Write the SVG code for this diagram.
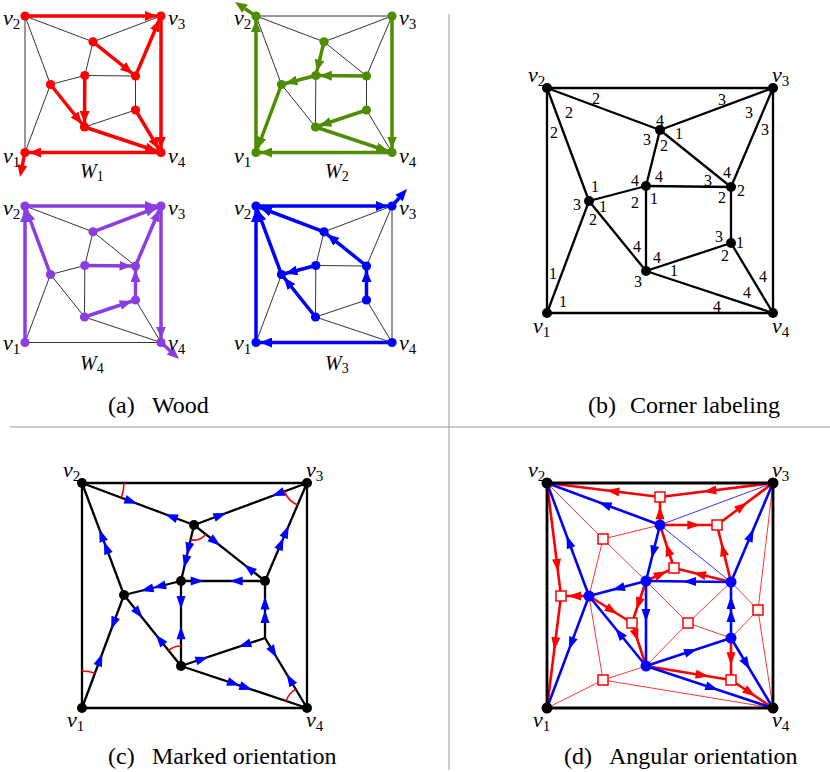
<svg xmlns="http://www.w3.org/2000/svg" width="830" height="772" viewBox="0 0 830 772" font-family="Liberation Serif, Times New Roman, DejaVu Serif, serif">
<style>
.div{stroke:#999;stroke-width:1}
.th{stroke:#000;stroke-width:0.8;fill:none}
.e{stroke:#000;stroke-width:2.3;fill:none;stroke-linejoin:round}
.r{stroke:#f00;stroke-width:3.5;marker-end:url(#mR)}
.g{stroke:#4e8c00;stroke-width:3.5;marker-end:url(#mG)}
.p{stroke:#8a3ee0;stroke-width:3.5;marker-end:url(#mP)}
.b{stroke:#00f;stroke-width:3.5;marker-end:url(#mB)}
.r0{stroke:#f00;stroke-width:3.5}
.g0{stroke:#4e8c00;stroke-width:3.5}
.p0{stroke:#8a3ee0;stroke-width:3.5}
.b0{stroke:#00f;stroke-width:3.5}
.fr{fill:#f00}.fg{fill:#4e8c00}.fp{fill:#8a3ee0}.fb{fill:#00f}.fk{fill:#000}
.arc{stroke:#f00;stroke-width:1.6;fill:none}
.rt{stroke:#f00;stroke-width:0.8}
.bt{stroke:#00f;stroke-width:0.8}
.rT{stroke:#f00;stroke-width:2.6}
.bT{stroke:#00f;stroke-width:2.6}
.sq{fill:#fff;stroke:#f00;stroke-width:1.5}
.vl{font-size:22px;font-style:italic}
.sb{font-style:normal;font-size:15px}
.wl{font-size:20px;font-style:italic}
.ws{font-style:normal;font-size:14px}
.n{font-size:16px;text-anchor:middle}
.cap{font-size:24px}
</style>
<defs>
<marker id="mR" viewBox="0 0 12 10" refX="16" refY="5" markerWidth="12" markerHeight="10" markerUnits="userSpaceOnUse" orient="auto"><path d="M0,0 L12,5 L0,10 Z" fill="#f00"/></marker>
<marker id="mG" viewBox="0 0 12 10" refX="16" refY="5" markerWidth="12" markerHeight="10" markerUnits="userSpaceOnUse" orient="auto"><path d="M0,0 L12,5 L0,10 Z" fill="#4e8c00"/></marker>
<marker id="mP" viewBox="0 0 12 10" refX="16" refY="5" markerWidth="12" markerHeight="10" markerUnits="userSpaceOnUse" orient="auto"><path d="M0,0 L12,5 L0,10 Z" fill="#8a3ee0"/></marker>
<marker id="mB" viewBox="0 0 12 10" refX="16" refY="5" markerWidth="12" markerHeight="10" markerUnits="userSpaceOnUse" orient="auto"><path d="M0,0 L12,5 L0,10 Z" fill="#00f"/></marker>
<path id="ta" d="M0,0 L-12,-5 L-12,5 Z"/>
<path id="ah" d="M7,0 L-6,-4.5 L-6,4.5 Z"/>
</defs>
<rect width="830" height="772" fill="#fff"/>

<g id="dividers">
<line class="div" x1="449" y1="14" x2="449" y2="770"/>
<line class="div" x1="10" y1="427" x2="830" y2="427"/>
</g>

<!-- ===== Panel (a) ===== -->
<g id="panel-a">
<g id="W1">
<g id="W1-connectors">
<g class="th">
<line x1="25" y1="152.5" x2="25" y2="16"/>
<line x1="25" y1="16" x2="93" y2="41.8"/>
<line x1="161" y1="16" x2="93" y2="41.8"/>
<line x1="25" y1="16" x2="50.5" y2="84.5"/>
<line x1="93" y1="41.8" x2="84.8" y2="75.5"/>
<line x1="50.5" y1="84.5" x2="84.8" y2="75.5"/>
<line x1="84.8" y1="75.5" x2="135.5" y2="76"/>
<line x1="135.5" y1="76" x2="135.5" y2="110"/>
<line x1="135.5" y1="110" x2="84.5" y2="127"/>
<line x1="25" y1="152.5" x2="50.5" y2="84.5"/>
</g>
<line class="r" x1="25" y1="16" x2="161" y2="16"/>
<line class="r" x1="135.5" y1="76" x2="161" y2="16"/>
<line class="r" x1="93" y1="41.8" x2="135.5" y2="76"/>
<line class="r" x1="84.8" y1="75.5" x2="84.5" y2="127"/>
<line class="r" x1="50.5" y1="84.5" x2="84.5" y2="127"/>
<line class="r" x1="135.5" y1="110" x2="161" y2="152.5"/>
<line class="r" x1="84.5" y1="127" x2="161" y2="152.5"/>
<line class="r" x1="161" y1="16" x2="161" y2="152.5"/>
<line class="r" x1="161" y1="152.5" x2="25" y2="152.5"/>
<line class="r0" x1="25" y1="152.5" x2="22" y2="167"/>
<use href="#ta" class="fr" transform="translate(20,177) rotate(101.5)"/>
</g>
<g class="fr">
<g id="W1-v2"><circle cx="25" cy="16" r="4.6"/></g>
<g id="W1-v3"><circle cx="161" cy="16" r="4.6"/></g>
<g id="W1-v1"><circle cx="25" cy="152.5" r="4.6"/></g>
<g id="W1-v4"><circle cx="161" cy="152.5" r="4.6"/></g>
<g id="W1-a"><circle cx="93" cy="41.8" r="4.6"/></g>
<g id="W1-b"><circle cx="50.5" cy="84.5" r="4.6"/></g>
<g id="W1-c"><circle cx="84.8" cy="75.5" r="4.6"/></g>
<g id="W1-d"><circle cx="135.5" cy="76" r="4.6"/></g>
<g id="W1-e"><circle cx="135.5" cy="110" r="4.6"/></g>
<g id="W1-f"><circle cx="84.5" cy="127" r="4.6"/></g>
</g>
<text class="vl" x="3" y="25">v<tspan class="sb" dy="4">2</tspan></text>
<text class="vl" x="168" y="25">v<tspan class="sb" dy="4">3</tspan></text>
<text class="vl" x="3" y="163">v<tspan class="sb" dy="4">1</tspan></text>
<text class="vl" x="168" y="163">v<tspan class="sb" dy="4">4</tspan></text>
<text class="wl" x="80" y="178">W<tspan class="ws" dy="3">1</tspan></text>
</g>

<g id="W2">
<g id="W2-connectors">
<g class="th">
<line x1="256" y1="16" x2="392" y2="16"/>
<line x1="256" y1="16" x2="324" y2="41.8"/>
<line x1="392" y1="16" x2="324" y2="41.8"/>
<line x1="256" y1="16" x2="281.5" y2="84.5"/>
<line x1="392" y1="16" x2="366.5" y2="76"/>
<line x1="324" y1="41.8" x2="366.5" y2="76"/>
<line x1="315.8" y1="75.5" x2="315.5" y2="127"/>
<line x1="366.5" y1="76" x2="366.5" y2="110"/>
<line x1="281.5" y1="84.5" x2="315.5" y2="127"/>
<line x1="366.5" y1="110" x2="392" y2="152.5"/>
</g>
<line class="g" x1="256" y1="152.5" x2="256" y2="16"/>
<line class="g" x1="324" y1="41.8" x2="315.8" y2="75.5"/>
<line class="g" x1="366.5" y1="76" x2="315.8" y2="75.5"/>
<line class="g" x1="315.8" y1="75.5" x2="281.5" y2="84.5"/>
<line class="g" x1="281.5" y1="84.5" x2="256" y2="152.5"/>
<line class="g" x1="366.5" y1="110" x2="315.5" y2="127"/>
<line class="g" x1="315.5" y1="127" x2="392" y2="152.5"/>
<line class="g" x1="392" y1="16" x2="392" y2="152.5"/>
<line class="g" x1="392" y1="152.5" x2="256" y2="152.5"/>
<line class="g0" x1="256" y1="16" x2="245" y2="8.7"/>
<use href="#ta" class="fg" transform="translate(235,2) rotate(213.7)"/>
</g>
<g class="fg">
<g id="W2-v2"><circle cx="256" cy="16" r="4.6"/></g>
<g id="W2-v3"><circle cx="392" cy="16" r="4.6"/></g>
<g id="W2-v1"><circle cx="256" cy="152.5" r="4.6"/></g>
<g id="W2-v4"><circle cx="392" cy="152.5" r="4.6"/></g>
<g id="W2-a"><circle cx="324" cy="41.8" r="4.6"/></g>
<g id="W2-b"><circle cx="281.5" cy="84.5" r="4.6"/></g>
<g id="W2-c"><circle cx="315.8" cy="75.5" r="4.6"/></g>
<g id="W2-d"><circle cx="366.5" cy="76" r="4.6"/></g>
<g id="W2-e"><circle cx="366.5" cy="110" r="4.6"/></g>
<g id="W2-f"><circle cx="315.5" cy="127" r="4.6"/></g>
</g>
<text class="vl" x="234" y="25">v<tspan class="sb" dy="4">2</tspan></text>
<text class="vl" x="399" y="25">v<tspan class="sb" dy="4">3</tspan></text>
<text class="vl" x="234" y="163">v<tspan class="sb" dy="4">1</tspan></text>
<text class="vl" x="399" y="163">v<tspan class="sb" dy="4">4</tspan></text>
<text class="wl" x="325" y="178">W<tspan class="ws" dy="3">2</tspan></text>
</g>

<g id="W4">
<g id="W4-connectors">
<g class="th">
<line x1="161" y1="342.5" x2="25" y2="342.5"/>
<line x1="25" y1="206" x2="93" y2="231.8"/>
<line x1="93" y1="231.8" x2="84.8" y2="265.5"/>
<line x1="50.5" y1="274.5" x2="84.8" y2="265.5"/>
<line x1="25" y1="342.5" x2="50.5" y2="274.5"/>
<line x1="50.5" y1="274.5" x2="84.5" y2="317"/>
<line x1="84.8" y1="265.5" x2="84.5" y2="317"/>
<line x1="93" y1="231.8" x2="135.5" y2="266"/>
<line x1="135.5" y1="300" x2="161" y2="342.5"/>
<line x1="84.5" y1="317" x2="161" y2="342.5"/>
</g>
<line class="p" x1="25" y1="342.5" x2="25" y2="206"/>
<line class="p" x1="50.5" y1="274.5" x2="25" y2="206"/>
<line class="p" x1="25" y1="206" x2="161" y2="206"/>
<line class="p" x1="93" y1="231.8" x2="161" y2="206"/>
<line class="p" x1="135.5" y1="266" x2="161" y2="206"/>
<line class="p" x1="84.8" y1="265.5" x2="135.5" y2="266"/>
<line class="p" x1="135.5" y1="300" x2="135.5" y2="266"/>
<line class="p" x1="84.5" y1="317" x2="135.5" y2="300"/>
<line class="p" x1="161" y1="206" x2="161" y2="342.5"/>
<line class="p0" x1="161" y1="342.5" x2="171" y2="351.5"/>
<use href="#ta" class="fp" transform="translate(179,359) rotate(42.5)"/>
</g>
<g class="fp">
<g id="W4-v2"><circle cx="25" cy="206" r="4.6"/></g>
<g id="W4-v3"><circle cx="161" cy="206" r="4.6"/></g>
<g id="W4-v1"><circle cx="25" cy="342.5" r="4.6"/></g>
<g id="W4-v4"><circle cx="161" cy="342.5" r="4.6"/></g>
<g id="W4-a"><circle cx="93" cy="231.8" r="4.6"/></g>
<g id="W4-b"><circle cx="50.5" cy="274.5" r="4.6"/></g>
<g id="W4-c"><circle cx="84.8" cy="265.5" r="4.6"/></g>
<g id="W4-d"><circle cx="135.5" cy="266" r="4.6"/></g>
<g id="W4-e"><circle cx="135.5" cy="300" r="4.6"/></g>
<g id="W4-f"><circle cx="84.5" cy="317" r="4.6"/></g>
</g>
<text class="vl" x="3" y="215">v<tspan class="sb" dy="4">2</tspan></text>
<text class="vl" x="168" y="215">v<tspan class="sb" dy="4">3</tspan></text>
<text class="vl" x="3" y="350">v<tspan class="sb" dy="4">1</tspan></text>
<text class="vl" x="168" y="350">v<tspan class="sb" dy="4">4</tspan></text>
<text class="wl" x="80" y="370">W<tspan class="ws" dy="3">4</tspan></text>
</g>

<g id="W3">
<g id="W3-connectors">
<g class="th">
<line x1="392" y1="206" x2="392" y2="342.5"/>
<line x1="392" y1="206" x2="324" y2="231.8"/>
<line x1="392" y1="206" x2="366.5" y2="266"/>
<line x1="324" y1="231.8" x2="315.8" y2="265.5"/>
<line x1="315.8" y1="265.5" x2="366.5" y2="266"/>
<line x1="315.8" y1="265.5" x2="315.5" y2="317"/>
<line x1="256" y1="342.5" x2="281.5" y2="274.5"/>
<line x1="366.5" y1="300" x2="315.5" y2="317"/>
<line x1="315.5" y1="317" x2="392" y2="342.5"/>
<line x1="366.5" y1="300" x2="392" y2="342.5"/>
</g>
<line class="b" x1="256" y1="206" x2="392" y2="206"/>
<line class="b" x1="324" y1="231.8" x2="256" y2="206"/>
<line class="b" x1="366.5" y1="266" x2="324" y2="231.8"/>
<line class="b" x1="366.5" y1="300" x2="366.5" y2="266"/>
<line class="b" x1="281.5" y1="274.5" x2="256" y2="206"/>
<line class="b" x1="315.8" y1="265.5" x2="281.5" y2="274.5"/>
<line class="b" x1="315.5" y1="317" x2="281.5" y2="274.5"/>
<line class="b" x1="256" y1="342.5" x2="256" y2="206"/>
<line class="b" x1="392" y1="342.5" x2="256" y2="342.5"/>
<line class="b0" x1="392" y1="206" x2="400" y2="197"/>
<use href="#ta" class="fb" transform="translate(407,189) rotate(-48.6)"/>
</g>
<g class="fb">
<g id="W3-v2"><circle cx="256" cy="206" r="4.6"/></g>
<g id="W3-v3"><circle cx="392" cy="206" r="4.6"/></g>
<g id="W3-v1"><circle cx="256" cy="342.5" r="4.6"/></g>
<g id="W3-v4"><circle cx="392" cy="342.5" r="4.6"/></g>
<g id="W3-a"><circle cx="324" cy="231.8" r="4.6"/></g>
<g id="W3-b"><circle cx="281.5" cy="274.5" r="4.6"/></g>
<g id="W3-c"><circle cx="315.8" cy="265.5" r="4.6"/></g>
<g id="W3-d"><circle cx="366.5" cy="266" r="4.6"/></g>
<g id="W3-e"><circle cx="366.5" cy="300" r="4.6"/></g>
<g id="W3-f"><circle cx="315.5" cy="317" r="4.6"/></g>
</g>
<text class="vl" x="234" y="215">v<tspan class="sb" dy="4">2</tspan></text>
<text class="vl" x="399" y="215">v<tspan class="sb" dy="4">3</tspan></text>
<text class="vl" x="234" y="350">v<tspan class="sb" dy="4">1</tspan></text>
<text class="vl" x="399" y="350">v<tspan class="sb" dy="4">4</tspan></text>
<text class="wl" x="325" y="370">W<tspan class="ws" dy="3">3</tspan></text>
</g>
<text class="cap" x="108" y="413">(a)</text>
<text class="cap" x="152" y="413">Wood</text>
</g>

<!-- ===== Panel (b) ===== -->
<g id="panel-b">
<g id="b-connectors" class="e">
<path d="M547,88 L773,88 L773,313 L547,313 Z"/>
<line x1="547" y1="88" x2="660" y2="130"/>
<line x1="773" y1="88" x2="660" y2="130"/>
<line x1="547" y1="88" x2="589" y2="201"/>
<line x1="773" y1="88" x2="731" y2="187"/>
<line x1="660" y1="130" x2="646" y2="186"/>
<line x1="660" y1="130" x2="731" y2="187"/>
<line x1="589" y1="201" x2="646" y2="186"/>
<line x1="646" y1="186" x2="731" y2="187"/>
<line x1="646" y1="186" x2="646" y2="271"/>
<line x1="731" y1="187" x2="731" y2="243"/>
<line x1="731" y1="243" x2="646" y2="271"/>
<line x1="589" y1="201" x2="646" y2="271"/>
<line x1="547" y1="313" x2="589" y2="201"/>
<line x1="646" y1="271" x2="773" y2="313"/>
<line x1="731" y1="243" x2="773" y2="313"/>
</g>
<g class="fk">
<g id="b-v2"><circle cx="547" cy="88" r="5"/></g>
<g id="b-v3"><circle cx="773" cy="88" r="5"/></g>
<g id="b-v1"><circle cx="547" cy="313" r="5"/></g>
<g id="b-v4"><circle cx="773" cy="313" r="5"/></g>
<g id="b-a"><circle cx="660" cy="130" r="5"/></g>
<g id="b-b"><circle cx="589" cy="201" r="5"/></g>
<g id="b-c"><circle cx="646" cy="186" r="5"/></g>
<g id="b-d"><circle cx="731" cy="187" r="5"/></g>
<g id="b-e"><circle cx="731" cy="243" r="5"/></g>
<g id="b-f"><circle cx="646" cy="271" r="5"/></g>
</g>
<g id="b-labels" class="n">
<text x="596" y="103.5">2</text>
<text x="569" y="118">2</text>
<text x="554" y="138">2</text>
<text x="722" y="105">3</text>
<text x="749" y="117.5">3</text>
<text x="765" y="134.5">3</text>
<text x="660" y="125.5">4</text>
<text x="647" y="145">3</text>
<text x="664" y="151">2</text>
<text x="679" y="139">1</text>
<text x="635" y="185.5">4</text>
<text x="659" y="182">4</text>
<text x="635" y="208">2</text>
<text x="654" y="203.5">1</text>
<text x="708" y="185.5">3</text>
<text x="727" y="178">4</text>
<text x="741" y="195.5">2</text>
<text x="722" y="203">2</text>
<text x="595" y="192">1</text>
<text x="577" y="209.5">3</text>
<text x="603" y="211.5">1</text>
<text x="593" y="225">2</text>
<text x="719" y="241.5">3</text>
<text x="740" y="247.5">1</text>
<text x="725" y="260.5">2</text>
<text x="637" y="252">4</text>
<text x="657" y="263">4</text>
<text x="674" y="276">1</text>
<text x="638" y="287">3</text>
<text x="763" y="282">4</text>
<text x="747" y="298">4</text>
<text x="717" y="312">4</text>
<text x="553" y="279">1</text>
<text x="563" y="306.5">1</text>
</g>
<text class="vl" x="528" y="82">v<tspan class="sb" dy="4">2</tspan></text>
<text class="vl" x="772" y="82">v<tspan class="sb" dy="4">3</tspan></text>
<text class="vl" x="533" y="333">v<tspan class="sb" dy="4">1</tspan></text>
<text class="vl" x="772" y="333">v<tspan class="sb" dy="4">4</tspan></text>
<text class="cap" x="588" y="413">(b)</text>
<text class="cap" x="630" y="413">Corner labeling</text>
</g>

<!-- ===== Panel (c) ===== -->
<g id="panel-c">
<g id="c-connectors">
<g class="e">
<path d="M82,483 L307,483 L307,708 L82,708 Z"/>
<line x1="82" y1="483" x2="194" y2="525"/>
<line x1="194" y1="525" x2="307" y2="483"/>
<line x1="82" y1="483" x2="124" y2="595"/>
<line x1="307" y1="483" x2="265" y2="581"/>
<line x1="194" y1="525" x2="181" y2="581"/>
<line x1="194" y1="525" x2="265" y2="581"/>
<line x1="181" y1="581" x2="265" y2="581"/>
<line x1="181" y1="581" x2="124" y2="595"/>
<line x1="181" y1="581" x2="181" y2="666"/>
<line x1="265" y1="581" x2="265" y2="638"/>
<line x1="124" y1="595" x2="82" y2="708"/>
<line x1="124" y1="595" x2="181" y2="666"/>
<line x1="181" y1="666" x2="265" y2="638"/>
<line x1="265" y1="638" x2="307" y2="708"/>
<line x1="181" y1="666" x2="307" y2="708"/>
</g>
<g class="fb">
<use href="#ah" transform="translate(130.7,501.3) rotate(20.6)"/>
<use href="#ah" transform="translate(171.6,516.6) rotate(200.6)"/>
<use href="#ah" transform="translate(219.8,515.4) rotate(-20.4)"/>
<use href="#ah" transform="translate(278.5,493.6) rotate(159.6)"/>
<use href="#ah" transform="translate(101.7,535.6) rotate(249.4)"/>
<use href="#ah" transform="translate(106.4,548) rotate(249.4)"/>
<use href="#ah" transform="translate(286,532) rotate(-66.8)"/>
<use href="#ah" transform="translate(280.9,544) rotate(-66.8)"/>
<use href="#ah" transform="translate(188.5,548.5) rotate(103.1)"/>
<use href="#ah" transform="translate(185.6,561.2) rotate(103.1)"/>
<use href="#ah" transform="translate(214.9,541.5) rotate(38.3)"/>
<use href="#ah" transform="translate(249.5,568.8) rotate(218.3)"/>
<use href="#ah" transform="translate(196.7,581) rotate(0)"/>
<use href="#ah" transform="translate(236.7,581) rotate(180)"/>
<use href="#ah" transform="translate(159.9,586.2) rotate(166.2)"/>
<use href="#ah" transform="translate(147.4,589.3) rotate(166.2)"/>
<use href="#ah" transform="translate(181,602) rotate(90)"/>
<use href="#ah" transform="translate(181,633.3) rotate(-90)"/>
<use href="#ah" transform="translate(265,603.5) rotate(-90)"/>
<use href="#ah" transform="translate(265,617) rotate(-90)"/>
<use href="#ah" transform="translate(113.6,623) rotate(110.4)"/>
<use href="#ah" transform="translate(99.9,660) rotate(-69.6)"/>
<use href="#ah" transform="translate(138.3,612.8) rotate(51.2)"/>
<use href="#ah" transform="translate(160.1,640) rotate(231.2)"/>
<use href="#ah" transform="translate(201.7,659.1) rotate(-18.4)"/>
<use href="#ah" transform="translate(245,644.7) rotate(161.6)"/>
<use href="#ah" transform="translate(273.2,651.7) rotate(59)"/>
<use href="#ah" transform="translate(290.2,679.9) rotate(239)"/>
<use href="#ah" transform="translate(233.3,683.4) rotate(18.4)"/>
<use href="#ah" transform="translate(245.6,687.5) rotate(18.4)"/>
</g>
<g id="c-angles" class="arc">
<path d="M124,483 A42,42 0 0 1 121.3,497.8"/>
<path d="M297.5,505.1 A24,24 0 0 1 284.5,491.4"/>
<path d="M205.8,534.3 A15,15 0 0 1 190.6,539.6"/>
<path d="M168.5,650.4 A20,20 0 0 1 181,646"/>
<path d="M82,671 A37,37 0 0 1 94.9,673.3"/>
<path d="M286.1,701.1 A22,22 0 0 1 295.7,689.1"/>
</g>
</g>
<g class="fk">
<g id="c-v2"><circle cx="82" cy="483" r="5"/></g>
<g id="c-v3"><circle cx="307" cy="483" r="5"/></g>
<g id="c-v1"><circle cx="82" cy="708" r="5"/></g>
<g id="c-v4"><circle cx="307" cy="708" r="5"/></g>
<g id="c-a"><circle cx="194" cy="525" r="5"/></g>
<g id="c-b"><circle cx="124" cy="595" r="5"/></g>
<g id="c-c"><circle cx="181" cy="581" r="5"/></g>
<g id="c-d"><circle cx="265" cy="581" r="5"/></g>
<g id="c-f"><circle cx="181" cy="666" r="5"/></g>
</g>
<text class="vl" x="63" y="477">v<tspan class="sb" dy="4">2</tspan></text>
<text class="vl" x="306" y="477">v<tspan class="sb" dy="4">3</tspan></text>
<text class="vl" x="67" y="727">v<tspan class="sb" dy="4">1</tspan></text>
<text class="vl" x="306" y="727">v<tspan class="sb" dy="4">4</tspan></text>
<text class="cap" x="108" y="764">(c)</text>
<text class="cap" x="152" y="764">Marked orientation</text>
</g>

<!-- ===== Panel (d) ===== -->
<g id="panel-d">
<g id="d-connectors">
<g class="rt">
<line x1="603" y1="539" x2="547" y2="483"/>
<line x1="603" y1="539" x2="660" y2="525"/>
<line x1="603" y1="539" x2="646" y2="581"/>
<line x1="603" y1="539" x2="589" y2="596"/>
<line x1="688" y1="623" x2="646" y2="581"/>
<line x1="688" y1="623" x2="731" y2="582"/>
<line x1="688" y1="623" x2="731" y2="638"/>
<line x1="688" y1="623" x2="646" y2="666"/>
<line x1="758" y1="610" x2="731" y2="582"/>
<line x1="758" y1="610" x2="773" y2="483"/>
<line x1="758" y1="610" x2="773" y2="708"/>
<line x1="758" y1="610" x2="731" y2="638"/>
<line x1="603" y1="680" x2="547" y2="708"/>
<line x1="603" y1="680" x2="589" y2="596"/>
<line x1="603" y1="680" x2="646" y2="666"/>
<line x1="603" y1="680" x2="773" y2="708"/>
</g>
<g class="bt">
<line x1="773" y1="483" x2="660" y2="525"/>
<line x1="660" y1="525" x2="731" y2="582"/>
</g>
<g class="rT">
<line x1="660" y1="497" x2="547" y2="483"/>
<line x1="660" y1="497" x2="773" y2="483"/>
<line x1="660" y1="497" x2="660" y2="525"/>
<line x1="717" y1="525" x2="660" y2="525"/>
<line x1="717" y1="525" x2="773" y2="483"/>
<line x1="717" y1="525" x2="731" y2="582"/>
<line x1="674" y1="568" x2="660" y2="525"/>
<line x1="674" y1="568" x2="646" y2="581"/>
<line x1="674" y1="568" x2="731" y2="582"/>
<line x1="561" y1="596" x2="547" y2="483"/>
<line x1="561" y1="596" x2="589" y2="596"/>
<line x1="561" y1="596" x2="547" y2="708"/>
<line x1="632" y1="623" x2="589" y2="596"/>
<line x1="632" y1="623" x2="646" y2="581"/>
<line x1="632" y1="623" x2="646" y2="666"/>
<line x1="731" y1="680" x2="731" y2="638"/>
<line x1="731" y1="680" x2="646" y2="666"/>
<line x1="731" y1="680" x2="773" y2="708"/>
</g>
<g class="bT">
<line x1="660" y1="525" x2="547" y2="483"/>
<line x1="731" y1="582" x2="773" y2="483"/>
<line x1="660" y1="525" x2="646" y2="581"/>
<line x1="731" y1="582" x2="646" y2="581"/>
<line x1="646" y1="581" x2="589" y2="596"/>
<line x1="589" y1="596" x2="547" y2="483"/>
<line x1="589" y1="596" x2="547" y2="708"/>
<line x1="646" y1="666" x2="589" y2="596"/>
<line x1="646" y1="581" x2="646" y2="666"/>
<line x1="646" y1="666" x2="731" y2="638"/>
<line x1="731" y1="638" x2="731" y2="582"/>
<line x1="731" y1="638" x2="773" y2="708"/>
<line x1="646" y1="666" x2="773" y2="708"/>
</g>
<path class="e" style="stroke-width:2.8" d="M547,483 L773,483 L773,708 L547,708 Z"/>
<g class="fb">
<use href="#ah" transform="translate(605.2,504.6) rotate(200.4)"/>
<use href="#ah" transform="translate(750.8,535.4) rotate(-67)"/>
<use href="#ah" transform="translate(653.3,551.7) rotate(104)"/>
<use href="#ah" transform="translate(690,581.5) rotate(180)"/>
<use href="#ah" transform="translate(618.7,588.2) rotate(165.3)"/>
<use href="#ah" transform="translate(569,542.1) rotate(249.6)"/>
<use href="#ah" transform="translate(571.3,643.2) rotate(110.6)"/>
<use href="#ah" transform="translate(619.6,633.6) rotate(230.8)"/>
<use href="#ah" transform="translate(646,615) rotate(90)"/>
<use href="#ah" transform="translate(690.5,651.4) rotate(-18.2)"/>
<use href="#ah" transform="translate(731,603) rotate(-90)"/>
<use href="#ah" transform="translate(731,616) rotate(-90)"/>
<use href="#ah" transform="translate(746.3,663.5) rotate(59)"/>
<use href="#ah" transform="translate(711.6,687.7) rotate(18.3)"/>
</g>
<g class="fr">
<use href="#ah" transform="translate(613.3,491.2) rotate(187)"/>
<use href="#ah" transform="translate(710.3,490.8) rotate(172.9)"/>
<use href="#ah" transform="translate(660,513.3) rotate(-90)"/>
<use href="#ah" transform="translate(693.3,525) rotate(0)"/>
<use href="#ah" transform="translate(741.6,506.6) rotate(-36.9)"/>
<use href="#ah" transform="translate(723.1,550) rotate(256.2)"/>
<use href="#ah" transform="translate(668.1,550) rotate(252)"/>
<use href="#ah" transform="translate(660.4,574.3) rotate(-24.9)"/>
<use href="#ah" transform="translate(699.8,574.3) rotate(193.8)"/>
<use href="#ah" transform="translate(557.2,564.9) rotate(82.9)"/>
<use href="#ah" transform="translate(575,596) rotate(180)"/>
<use href="#ah" transform="translate(555.1,643.2) rotate(97.1)"/>
<use href="#ah" transform="translate(611.6,610.2) rotate(32.1)"/>
<use href="#ah" transform="translate(638.5,603.4) rotate(108.4)"/>
<use href="#ah" transform="translate(636,635) rotate(72)"/>
<use href="#ah" transform="translate(731,658.3) rotate(90)"/>
<use href="#ah" transform="translate(701.7,675.2) rotate(9.35)"/>
<use href="#ah" transform="translate(749.6,692.4) rotate(33.7)"/>
</g>
</g>
<g class="sq">
<g id="d-s1"><rect x="655" y="492" width="10" height="10"/></g>
<g id="d-s2"><rect x="598" y="534" width="10" height="10"/></g>
<g id="d-s3"><rect x="712" y="520" width="10" height="10"/></g>
<g id="d-s4"><rect x="669" y="563" width="10" height="10"/></g>
<g id="d-s5"><rect x="556" y="591" width="10" height="10"/></g>
<g id="d-s6"><rect x="627" y="618" width="10" height="10"/></g>
<g id="d-s7"><rect x="683" y="618" width="10" height="10"/></g>
<g id="d-s8"><rect x="753" y="605" width="10" height="10"/></g>
<g id="d-s9"><rect x="598" y="675" width="10" height="10"/></g>
<g id="d-s10"><rect x="726" y="675" width="10" height="10"/></g>
</g>
<g class="fk">
<g id="d-v2"><circle cx="547" cy="483" r="5.5"/></g>
<g id="d-v3"><circle cx="773" cy="483" r="5.5"/></g>
<g id="d-v1"><circle cx="547" cy="708" r="5.5"/></g>
<g id="d-v4"><circle cx="773" cy="708" r="5.5"/></g>
</g>
<g class="fb">
<g id="d-a"><circle cx="660" cy="525" r="5.5"/></g>
<g id="d-b"><circle cx="589" cy="596" r="5.5"/></g>
<g id="d-c"><circle cx="646" cy="581" r="5.5"/></g>
<g id="d-d"><circle cx="731" cy="582" r="5.5"/></g>
<g id="d-e"><circle cx="731" cy="638" r="5.5"/></g>
<g id="d-f"><circle cx="646" cy="666" r="5.5"/></g>
</g>
<text class="vl" x="528" y="477">v<tspan class="sb" dy="4">2</tspan></text>
<text class="vl" x="772" y="477">v<tspan class="sb" dy="4">3</tspan></text>
<text class="vl" x="533" y="727">v<tspan class="sb" dy="4">1</tspan></text>
<text class="vl" x="772" y="727">v<tspan class="sb" dy="4">4</tspan></text>
<text class="cap" x="564" y="764">(d)</text>
<text class="cap" x="609" y="764">Angular orientation</text>
</g>
</svg>
